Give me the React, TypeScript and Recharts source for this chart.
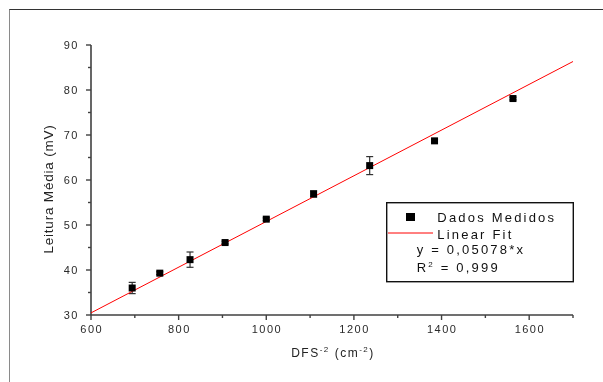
import React from "react";
import {
  ComposedChart,
  Scatter,
  XAxis,
  YAxis,
  ErrorBar,
  Label,
  Customized,
} from "recharts";

// measured points
const dfs = [694, 757, 826, 906, 1000, 1108, 1236, 1384, 1563];
const leitura = [36.0, 39.3, 42.3, 46.1, 51.3, 56.9, 63.2, 68.7, 78.1];
const erro = [1.25, 0.3, 1.7, 0.3, 0.3, 0.7, 2.0, 0.3, 0.3];

// linear fit y = 0,05078*x
const fitX = [600, 1700];
const fitY = [30.47, 86.33];

const xTicks = [600, 700, 800, 900, 1000, 1100, 1200, 1300, 1400, 1500, 1600, 1700];
const xMajor = [600, 800, 1000, 1200, 1400, 1600];
const yTicks = [30, 35, 40, 45, 50, 55, 60, 65, 70, 75, 80, 85, 90];
const yMajor = [30, 40, 50, 60, 70, 80, 90];

const points = dfs.map((x, i) => ({ x, y: leitura[i], err: erro[i] }));
const fitPoints = fitX.map((x, i) => ({ x, y: fitY[i] }));

const FONT = "'Liberation Sans', Arial, sans-serif";
const AXIS = "#404040";

const XTick = (props: any) => {
  const { x, y, payload } = props;
  const axisY = y - 10;
  const major = xMajor.includes(payload.value);
  return (
    <g>
      <line x1={x} x2={x} y1={axisY} y2={axisY + (major ? 5 : 3)} stroke={AXIS} strokeWidth={1.4} />
      {major && (
        <text x={x + 0.7} y={axisY + 10} dy="0.71em" textAnchor="middle" fontSize={11} fill="#2a2a2a" fontFamily={FONT} letterSpacing={1.5}>
          {payload.value}
        </text>
      )}
    </g>
  );
};

const YTick = (props: any) => {
  const { x, y, payload } = props;
  const axisX = x + 13;
  const major = yMajor.includes(payload.value);
  return (
    <g>
      <line x1={axisX} x2={axisX - (major ? 5 : 3)} y1={y} y2={y} stroke={AXIS} strokeWidth={1.4} />
      {major && (
        <text x={axisX - 12} y={y} dy="0.36em" textAnchor="end" fontSize={11} fill="#2a2a2a" fontFamily={FONT} letterSpacing={1.5}>
          {payload.value}
        </text>
      )}
    </g>
  );
};

const Square = (props: any) => {
  const { cx, cy } = props;
  return <rect x={cx - 3.5} y={cy - 3.5} width={7} height={7} fill="#000" />;
};

const NoShape = () => <g />;

const XTitle = (props: any) => {
  const { x, y, width } = props.viewBox;
  return (
    <text x={x + width / 2 + 1} y={y + 42} textAnchor="middle" fontSize={12} fill="#222" fontFamily={FONT} letterSpacing={1.5}>
      <tspan>DFS</tspan>
      <tspan dy={-5} fontSize={8}>-2</tspan>
      <tspan dy={5}> (cm</tspan>
      <tspan dy={-5} fontSize={8}>-2</tspan>
      <tspan dy={5}>)</tspan>
    </text>
  );
};

const YTitle = () => (
  <text
    transform="translate(40,181) rotate(-90)"
    x={0}
    y={0}
    dy="0.35em"
    textAnchor="middle"
    fontSize={13.5}
    fill="#222"
    fontFamily={FONT}
    letterSpacing={0.8}
  >
    Leitura Média (mV)
  </text>
);

const LegendBox = () => {
  const t = { fontSize: 13, fill: "#111", fontFamily: FONT, letterSpacing: 2.2 } as const;
  return (
    <g>
      <rect x={378.7} y={194.7} width={186.6} height={79} fill="#fff" stroke="#111" strokeWidth={1.4} />
      <rect x={398} y={205} width={9} height={8} fill="#000" />
      <text x={429.3} y={214.3} {...t}>Dados Medidos</text>
      <line x1={380} x2={425} y1={225} y2={225} stroke="#ff0000" strokeWidth={1} />
      <text x={429.3} y={230.5} {...t}>Linear Fit</text>
      <text x={408.7} y={246} {...t}>y = 0,05078*x</text>
      <text x={408.7} y={264} {...t}>
        <tspan>R</tspan>
        <tspan dy={-5} fontSize={8}>2</tspan>
        <tspan dy={5}> = 0,999</tspan>
      </text>
    </g>
  );
};

export default function App() {
  return (
    <div style={{ position: "relative", width: 587, height: 366 }}>
      <div
        style={{
          position: "fixed",
          top: 8.5,
          left: 8.5,
          width: 800,
          height: 600,
          borderTop: "1.5px solid #333",
          borderLeft: "1.5px solid #8a8a8a",
          pointerEvents: "none",
        }}
      />
      <ComposedChart
        width={587}
        height={366}
        margin={{ top: 37, right: 22, bottom: 19, left: 33 }}
      >
        <XAxis
          xAxisId={0}
          type="number"
          dataKey="x"
          domain={[600, 1700]}
          ticks={xTicks}
          interval={0}
          allowDataOverflow
          height={40}
          tickSize={5}
          tickMargin={5}
          tickLine={false}
          tick={XTick}
          axisLine={{ stroke: AXIS, strokeWidth: 1.6 }}
        >
          <Label content={XTitle} />
        </XAxis>
        <YAxis
          yAxisId={0}
          type="number"
          dataKey="y"
          domain={[30, 90]}
          ticks={yTicks}
          interval={0}
          allowDataOverflow
          width={50}
          tickSize={5}
          tickMargin={8}
          tickLine={false}
          tick={YTick}
          axisLine={{ stroke: AXIS, strokeWidth: 1.6 }}
        />
        <Scatter
          name="Linear Fit"
          data={fitPoints}
          line={{ stroke: "#ff0000", strokeWidth: 1 }}
          shape={NoShape}
          isAnimationActive={false}
        />
        <Scatter name="Dados Medidos" data={points} shape={Square} isAnimationActive={false}>
          <ErrorBar dataKey="err" direction="y" width={3.5} stroke="#333" strokeWidth={1.2} />
        </Scatter>
        <Customized component={YTitle} />
        <Customized component={LegendBox} />
      </ComposedChart>
    </div>
  );
}
